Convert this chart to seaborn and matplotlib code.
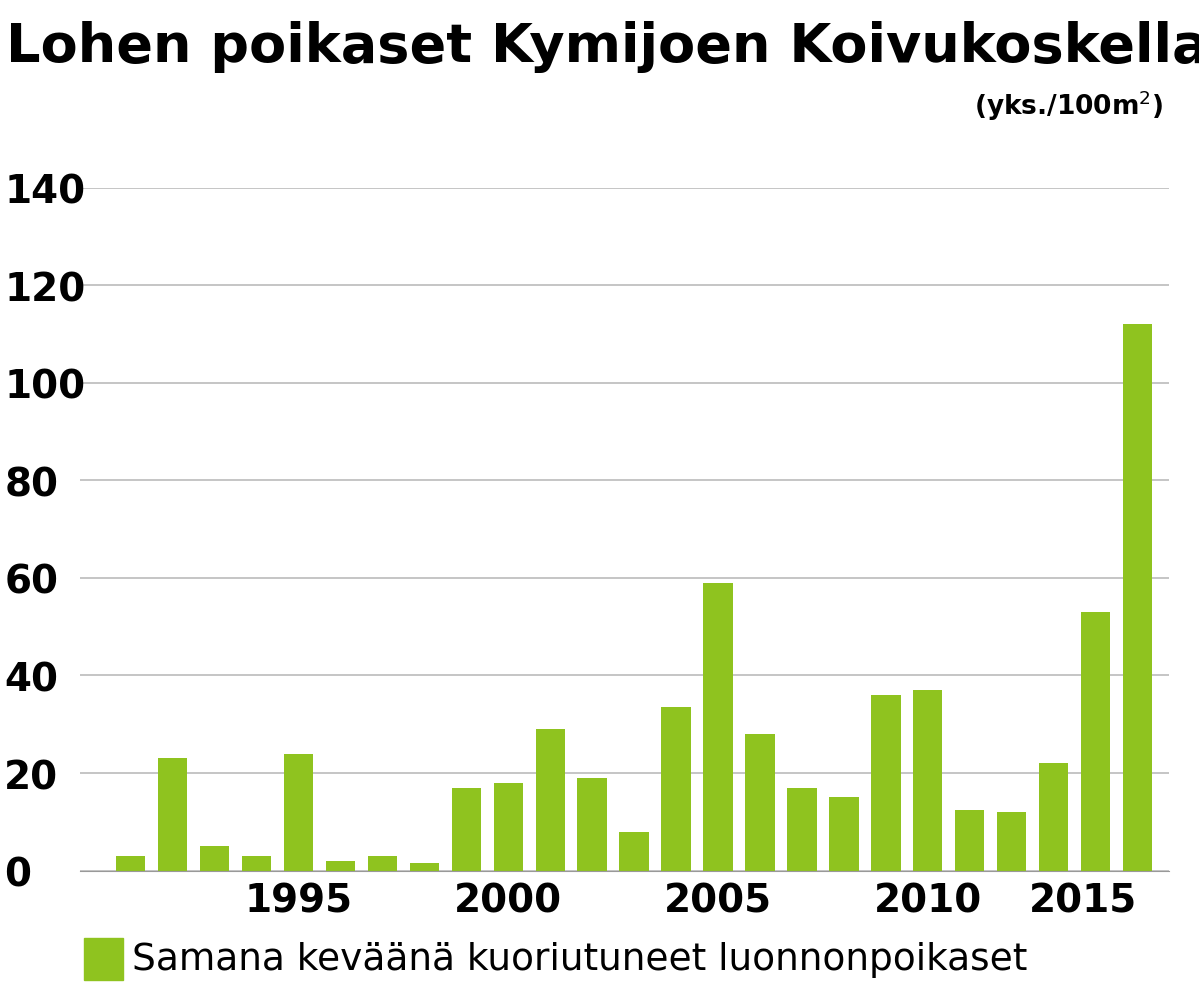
import matplotlib
matplotlib.use("Agg")
import matplotlib.pyplot as plt
import seaborn as sns
import pandas as pd

years = list(range(1991, 2016))
values = [3, 23, 5, 3, 24, 2, 3, 1.5, 17, 18,
          29, 19, 8, 33.5, 59, 28, 17, 15, 36, 37,
          12.5, 12, 22, 53, 112]
yticks = [0, 20, 40, 60, 80, 100, 120, 140]
xticks = [1995, 2000, 2005, 2010, 2015]

plt.rcParams['font.family'] = ['DejaVu Sans']
green = '#8fc31f'

df = pd.DataFrame({'year': years, 'value': values})
fig = plt.figure(figsize=(11.99, 10.03), dpi=100)
ax = fig.add_axes([0.067, 0.131, 0.908, 0.681])
ax.set_axisbelow(True)
sns.barplot(data=df, x='year', y='value', color=green, saturation=1, width=0.7, ax=ax)

ax.set_ylim(0, 140)
ax.set_xlim(-1.2, 24.75)
ax.set_yticks(yticks)
ax.set_yticklabels([str(t) for t in yticks], fontsize=28, fontweight='bold')
ax.set_xticks([years.index(y) for y in xticks])
ax.set_xticklabels([str(t) for t in xticks], fontsize=28, fontweight='bold')
ax.tick_params(length=0, pad=8)
ax.grid(axis='y', color='#bbbbbb', linewidth=1.2)
for s in ['top', 'right', 'left']:
    ax.spines[s].set_visible(False)
ax.spines['bottom'].set_color('#999999')
ax.set_xlabel('')
ax.set_ylabel('')
for lbl in ax.get_yticklabels():
    lbl.set_horizontalalignment('left')
    lbl.set_x(-0.067 / 0.908 + 0.004)
ax.yaxis.set_tick_params(pad=0)
xl = ax.get_xticklabels()
xl[-1].set_horizontalalignment('right')
xl[-1].set_x(xl[-1].get_position()[0] + 0.6)

fig.text(0.005, 0.953, 'Lohen poikaset Kymijoen Koivukoskella', fontsize=39,
         fontweight='bold', va='center', ha='left')
fig.text(0.97, 0.895, '(yks./100m$^2$)', fontsize=19, fontweight='bold',
         va='center', ha='right')
fig.patches.append(plt.Rectangle((0.07, 0.022), 0.033, 0.042, color=green,
                                 transform=fig.transFigure, figure=fig))
fig.text(0.11, 0.043, 'Samana keväänä kuoriutuneet luonnonpoikaset', fontsize=27,
         va='center', ha='left')
fig.savefig('out.png', facecolor='white')
